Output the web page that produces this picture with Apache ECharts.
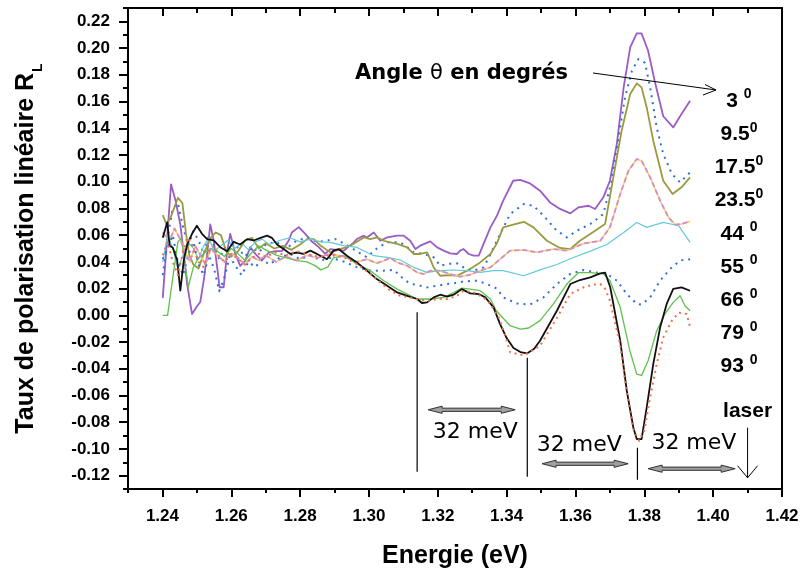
<!DOCTYPE html>
<html>
<head>
<meta charset="utf-8">
<title>Taux de polarisation linéaire</title>
<script src="https://cdn.jsdelivr.net/npm/echarts@6/dist/echarts.min.js"></script>
<style>
  html, body { margin: 0; padding: 0; background: #fff; }
  #chart { width: 801px; height: 569px; }
</style>
</head>
<body>
<div id="chart"></div>
<script>
// ---- Axis ranges and tick steps ----
const energyRange = [1.23, 1.42];      // full frame
const energyLabelRange = [1.24, 1.42]; // labelled ticks
const rlRange = [-0.13, 0.23];
const rlLabelRange = [-0.12, 0.22];
const tickStep = 0.02;

// ---- Angle labels (degrees), top to bottom ----
const angleLabels = ['3 ', '9.5', '17.5', '23.5', '44 ', '55 ', '66 ', '79 ', '93 '];

// ---- Linear polarisation rate R_L versus energy (eV) for each angle ----
const rl3 = [[1.2401,0.013],[1.2425,0.098],[1.2438,0.086],[1.2452,0.068],[1.2462,0.046],[1.2472,0.023],[1.2486,0.001],[1.2501,0.007],[1.2510,0.010],[1.2520,0.026],[1.2530,0.046],[1.2539,0.068],[1.2549,0.056],[1.2559,0.036],[1.2566,0.021],[1.2578,0.021],[1.2588,0.048],[1.2597,0.061],[1.2612,0.046],[1.2626,0.037],[1.2641,0.041],[1.2655,0.051],[1.2670,0.046],[1.2689,0.041],[1.2709,0.047],[1.2728,0.048],[1.2747,0.048],[1.2767,0.056],[1.2776,0.062],[1.2796,0.066],[1.2815,0.061],[1.2835,0.055],[1.2854,0.051],[1.2873,0.046],[1.2888,0.0496],[1.2927,0.0484],[1.2956,0.0546],[1.2965,0.0571],[1.2985,0.0596],[1.2994,0.0583],[1.3014,0.062],[1.3033,0.0558],[1.3053,0.0583],[1.3082,0.0596],[1.3101,0.0596],[1.3120,0.0558],[1.3135,0.0496],[1.3149,0.0521],[1.3178,0.0553],[1.3198,0.0508],[1.3217,0.0484],[1.3236,0.0463],[1.3256,0.0459],[1.3265,0.0484],[1.3275,0.0496],[1.3290,0.0459],[1.3304,0.0446],[1.3319,0.0446],[1.3333,0.0534],[1.3353,0.0658],[1.3372,0.0746],[1.3390,0.0858],[1.3419,0.1007],[1.3439,0.1013],[1.3468,0.0987],[1.3497,0.0933],[1.3526,0.0845],[1.3555,0.0796],[1.3585,0.0763],[1.3609,0.0808],[1.3638,0.082],[1.3657,0.0796],[1.3681,0.0883],[1.3700,0.1007],[1.3720,0.128],[1.3740,0.1706],[1.3759,0.2005],[1.3778,0.211],[1.3792,0.211],[1.3811,0.198],[1.3830,0.1756],[1.3855,0.149],[1.3884,0.1406],[1.3908,0.1507],[1.3933,0.1606]];

const rl9_5 = [[1.2401,0.030],[1.2415,0.058],[1.2430,0.080],[1.2445,0.084],[1.2460,0.066],[1.2475,0.052],[1.2490,0.063],[1.2505,0.056],[1.2520,0.046],[1.2535,0.060],[1.2550,0.052],[1.2565,0.042],[1.2580,0.050],[1.2600,0.057],[1.2620,0.050],[1.2640,0.044],[1.2660,0.051],[1.2680,0.047],[1.2700,0.053],[1.2730,0.055],[1.2760,0.050],[1.2790,0.056],[1.2820,0.058],[1.2850,0.055],[1.2880,0.056],[1.2902,0.0571],[1.2940,0.052],[1.2970,0.047],[1.2994,0.0434],[1.3023,0.050],[1.3053,0.0546],[1.3091,0.0546],[1.3111,0.051],[1.3130,0.0471],[1.3159,0.046],[1.3188,0.0434],[1.3207,0.0371],[1.3227,0.0384],[1.3256,0.0389],[1.3275,0.0359],[1.3304,0.0334],[1.3333,0.0359],[1.3352,0.045],[1.3372,0.056],[1.3410,0.0758],[1.3450,0.0833],[1.3478,0.082],[1.3507,0.0746],[1.3546,0.0633],[1.3575,0.0583],[1.3604,0.0633],[1.3643,0.0683],[1.3681,0.0758],[1.3705,0.1007],[1.3725,0.133],[1.3744,0.163],[1.3764,0.183],[1.3783,0.1918],[1.3802,0.189],[1.3817,0.1706],[1.3836,0.1406],[1.3855,0.1207],[1.3880,0.1058],[1.3904,0.0995],[1.3933,0.107]];

const rl17_5 = [[1.2401,0.075],[1.2412,0.068],[1.2425,0.074],[1.2445,0.088],[1.2458,0.084],[1.2468,0.062],[1.2478,0.045],[1.2490,0.038],[1.2505,0.035],[1.2520,0.046],[1.2540,0.058],[1.2555,0.062],[1.2570,0.060],[1.2585,0.048],[1.2600,0.044],[1.2620,0.048],[1.2640,0.056],[1.2660,0.058],[1.2680,0.050],[1.2700,0.054],[1.2725,0.050],[1.2750,0.052],[1.2775,0.049],[1.2800,0.053],[1.2820,0.057],[1.2840,0.057],[1.2860,0.052],[1.2888,0.0471],[1.2917,0.0496],[1.2946,0.0521],[1.2985,0.0583],[1.3004,0.0571],[1.3023,0.0583],[1.3043,0.0558],[1.3062,0.0546],[1.3082,0.0534],[1.3111,0.0508],[1.3130,0.0459],[1.3149,0.0459],[1.3169,0.0471],[1.3178,0.0421],[1.3188,0.0359],[1.3207,0.0296],[1.3236,0.0301],[1.3256,0.0296],[1.3275,0.0321],[1.3294,0.0346],[1.3323,0.0396],[1.3353,0.0459],[1.3372,0.054],[1.3390,0.0658],[1.3419,0.0678],[1.3450,0.070],[1.3478,0.0658],[1.3517,0.0558],[1.3555,0.0504],[1.3585,0.0496],[1.3613,0.0558],[1.3643,0.0608],[1.3686,0.0683],[1.3710,0.1032],[1.3734,0.138],[1.3759,0.1656],[1.3778,0.1736],[1.3792,0.1706],[1.3807,0.1556],[1.3826,0.1307],[1.3855,0.1007],[1.3882,0.0908],[1.3908,0.0958],[1.3933,0.1032]];

const rl23_5 = [[1.2401,0.062],[1.2420,0.055],[1.2435,0.065],[1.2450,0.058],[1.2465,0.048],[1.2480,0.040],[1.2495,0.052],[1.2510,0.045],[1.2525,0.038],[1.2540,0.050],[1.2560,0.045],[1.2580,0.040],[1.2600,0.046],[1.2620,0.043],[1.2640,0.038],[1.2660,0.044],[1.2680,0.041],[1.2700,0.045],[1.2730,0.040],[1.2760,0.044],[1.2790,0.041],[1.2820,0.045],[1.2850,0.043],[1.2888,0.046],[1.2927,0.044],[1.2965,0.040],[1.2994,0.042],[1.3023,0.039],[1.3043,0.0409],[1.3062,0.0429],[1.3082,0.0396],[1.3111,0.0371],[1.3140,0.0321],[1.3159,0.0309],[1.3178,0.0334],[1.3207,0.0334],[1.3236,0.0309],[1.3265,0.0289],[1.3294,0.0304],[1.3323,0.0334],[1.3353,0.0359],[1.3381,0.042],[1.3410,0.0484],[1.3450,0.0489],[1.3488,0.0471],[1.3536,0.0496],[1.3575,0.0484],[1.3624,0.0538],[1.3672,0.0558],[1.3700,0.0658],[1.3730,0.0908],[1.3754,0.1082],[1.3778,0.117],[1.3792,0.1157],[1.3817,0.1032],[1.3846,0.0858],[1.3870,0.0733],[1.3890,0.0678],[1.3908,0.0683],[1.3933,0.0703]];

const rl44 = [[1.2401,0.040],[1.2415,0.060],[1.2430,0.050],[1.2445,0.035],[1.2460,0.045],[1.2475,0.055],[1.2490,0.050],[1.2505,0.042],[1.2520,0.052],[1.2535,0.058],[1.2550,0.048],[1.2570,0.052],[1.2590,0.056],[1.2610,0.050],[1.2630,0.054],[1.2650,0.049],[1.2670,0.055],[1.2690,0.057],[1.2710,0.053],[1.2740,0.056],[1.2770,0.058],[1.2800,0.055],[1.2830,0.057],[1.2860,0.055],[1.2888,0.0546],[1.2927,0.0521],[1.2965,0.0508],[1.3014,0.0446],[1.3053,0.0434],[1.3091,0.0414],[1.3130,0.0359],[1.3169,0.0321],[1.3207,0.0334],[1.3246,0.0339],[1.3285,0.0334],[1.3323,0.0321],[1.3362,0.0334],[1.3390,0.0334],[1.3450,0.0296],[1.3497,0.034],[1.3546,0.038],[1.3594,0.0433],[1.3643,0.048],[1.3691,0.053],[1.3740,0.062],[1.3778,0.0695],[1.3807,0.0658],[1.3855,0.0695],[1.3900,0.067],[1.3933,0.0546]];

const rl55 = [[1.2401,0.042],[1.2415,0.050],[1.2430,0.060],[1.2445,0.040],[1.2460,0.030],[1.2475,0.045],[1.2490,0.055],[1.2505,0.038],[1.2520,0.030],[1.2535,0.045],[1.2550,0.035],[1.2565,0.018],[1.2580,0.028],[1.2595,0.044],[1.2610,0.038],[1.2630,0.030],[1.2650,0.040],[1.2670,0.036],[1.2690,0.042],[1.2710,0.038],[1.2740,0.043],[1.2770,0.046],[1.2800,0.042],[1.2830,0.045],[1.2860,0.041],[1.2890,0.043],[1.2930,0.040],[1.2965,0.036],[1.3004,0.0334],[1.3043,0.0334],[1.3072,0.034],[1.3106,0.0259],[1.3125,0.0234],[1.3149,0.0222],[1.3169,0.0209],[1.3198,0.0222],[1.3227,0.0234],[1.3246,0.0239],[1.3275,0.0254],[1.3314,0.0259],[1.3343,0.0234],[1.3372,0.020],[1.3390,0.0134],[1.3429,0.0089],[1.3468,0.008],[1.3507,0.0134],[1.3546,0.0234],[1.3585,0.031],[1.3624,0.0339],[1.3662,0.032],[1.3691,0.031],[1.3720,0.026],[1.3749,0.016],[1.3778,0.0085],[1.3792,0.008],[1.3817,0.0134],[1.3846,0.026],[1.3875,0.0347],[1.3904,0.041],[1.3933,0.042]];

const rl66 = [[1.2401,0.000],[1.2415,0.000],[1.2430,0.028],[1.2445,0.055],[1.2455,0.058],[1.2465,0.040],[1.2475,0.021],[1.2490,0.036],[1.2505,0.043],[1.2520,0.046],[1.2540,0.050],[1.2560,0.048],[1.2580,0.044],[1.2600,0.050],[1.2620,0.046],[1.2640,0.041],[1.2660,0.047],[1.2680,0.052],[1.2700,0.049],[1.2730,0.045],[1.2760,0.043],[1.2790,0.041],[1.2820,0.040],[1.2845,0.037],[1.2860,0.034],[1.2880,0.036],[1.2897,0.043],[1.2927,0.0446],[1.2965,0.0384],[1.3004,0.0334],[1.3043,0.0259],[1.3082,0.0196],[1.3111,0.0159],[1.3140,0.0122],[1.3178,0.0122],[1.3217,0.0134],[1.3246,0.0171],[1.3270,0.0204],[1.3294,0.0196],[1.3323,0.0184],[1.3353,0.0122],[1.3370,0.0034],[1.3410,-0.0078],[1.3440,-0.0103],[1.3464,-0.0095],[1.3497,-0.004],[1.3536,0.0085],[1.3575,0.0234],[1.3609,0.032],[1.3643,0.032],[1.3681,0.031],[1.3700,0.026],[1.3730,0.006],[1.3758,-0.0265],[1.3778,-0.044],[1.3792,-0.045],[1.3811,-0.034],[1.3836,-0.0115],[1.3860,0.001],[1.3884,0.0097],[1.3904,0.0147],[1.3918,0.0072],[1.3933,0.0034]];

const rl79 = [[1.2401,0.058],[1.2414,0.0696],[1.2421,0.052],[1.2430,0.0508],[1.2443,0.041],[1.2452,0.0184],[1.2462,0.041],[1.2472,0.053],[1.2486,0.061],[1.2500,0.067],[1.2515,0.061],[1.2530,0.057],[1.2549,0.056],[1.2568,0.051],[1.2588,0.048],[1.2607,0.055],[1.2626,0.053],[1.2646,0.057],[1.2665,0.056],[1.2685,0.058],[1.2704,0.0596],[1.2718,0.058],[1.2733,0.053],[1.2752,0.0496],[1.2771,0.046],[1.2791,0.047],[1.2810,0.046],[1.2830,0.0484],[1.2859,0.0446],[1.2878,0.042],[1.2897,0.0484],[1.2912,0.0496],[1.2936,0.0446],[1.2965,0.0396],[1.2994,0.0334],[1.3023,0.0271],[1.3053,0.0221],[1.3082,0.0171],[1.3111,0.0146],[1.3140,0.0122],[1.3154,0.0092],[1.3169,0.0097],[1.3188,0.0134],[1.3207,0.0154],[1.3227,0.0139],[1.3246,0.0154],[1.3270,0.0196],[1.3294,0.0164],[1.3319,0.0159],[1.3338,0.0134],[1.3362,0.0059],[1.3380,-0.006],[1.3400,-0.017],[1.3420,-0.0245],[1.3440,-0.0275],[1.3459,-0.0285],[1.3480,-0.025],[1.3497,-0.019],[1.3546,0.0034],[1.3585,0.0234],[1.3613,0.0264],[1.3643,0.0284],[1.3672,0.0314],[1.3686,0.032],[1.3701,0.021],[1.3730,-0.019],[1.3749,-0.0564],[1.3768,-0.0839],[1.3778,-0.0926],[1.3792,-0.0926],[1.3807,-0.0689],[1.3826,-0.0365],[1.3846,-0.009],[1.3865,0.0085],[1.3884,0.0197],[1.3908,0.0209],[1.3933,0.0184]];

const rl93 = [[1.2401,0.045],[1.2415,0.055],[1.2430,0.040],[1.2445,0.030],[1.2460,0.048],[1.2475,0.058],[1.2490,0.050],[1.2505,0.040],[1.2520,0.036],[1.2535,0.048],[1.2550,0.052],[1.2565,0.044],[1.2580,0.040],[1.2600,0.046],[1.2620,0.042],[1.2640,0.038],[1.2660,0.043],[1.2680,0.046],[1.2700,0.044],[1.2730,0.047],[1.2760,0.045],[1.2790,0.048],[1.2820,0.046],[1.2850,0.044],[1.2888,0.045],[1.2927,0.0434],[1.2965,0.0384],[1.3004,0.0309],[1.3033,0.0246],[1.3062,0.0184],[1.3091,0.0146],[1.3120,0.0134],[1.3149,0.0114],[1.3178,0.0109],[1.3198,0.0122],[1.3227,0.0122],[1.3256,0.0146],[1.3275,0.0184],[1.3304,0.0171],[1.3333,0.0134],[1.3353,0.0084],[1.3377,-0.0016],[1.3395,-0.014],[1.3410,-0.0277],[1.3450,-0.030],[1.3497,-0.0228],[1.3546,-0.002],[1.3585,0.016],[1.3624,0.021],[1.3653,0.023],[1.3672,0.0234],[1.3686,0.020],[1.3700,0.011],[1.3730,-0.022],[1.3750,-0.060],[1.3768,-0.085],[1.3785,-0.094],[1.3800,-0.086],[1.3817,-0.0614],[1.3836,-0.0365],[1.3855,-0.0165],[1.3880,-0.004],[1.3900,0.002],[1.3923,0.001],[1.3933,-0.009]];

// ---- Annotation anchors in data units (energy eV, R_L) ----
const laserEnergy = 1.410;
const separatorEnergies = [1.314, 1.346, 1.378];

// ---- Styling ----
const SANS = '"Liberation Sans", Arial, sans-serif';
const GOTHIC = '"DejaVu Sans", sans-serif';
const black = '#000';

const W = 801, H = 569;
const frameBox = { left: 128, right: 19, top: 8, bottom: 80 };
const plotW = W - frameBox.left - frameBox.right;
const plotH = H - frameBox.top - frameBox.bottom;
// Sub-grids whose extents start exactly on the labelled ticks, so the
// labelled ticks are counted from their own min.
const xShift = plotW * (energyLabelRange[0] - energyRange[0]) / (energyRange[1] - energyRange[0]);
const yTopShift = plotH * (rlRange[1] - rlLabelRange[1]) / (rlRange[1] - rlRange[0]);
const yBotShift = plotH * (rlLabelRange[0] - rlRange[0]) / (rlRange[1] - rlRange[0]);

const chart = echarts.init(document.getElementById('chart'), null, { renderer: 'canvas' });

function curve(name, data, color, width, type, z) {
  return {
    name, type: 'line', data,
    xAxisIndex: 0, yAxisIndex: 0,
    showSymbol: false, symbol: 'none',
    lineStyle: { color, width, type: type || 'solid', cap: 'butt', join: 'round' },
    itemStyle: { color },
    z: z || 2,
    animation: false,
    silent: true
  };
}

const tickLabelStyle = { color: black, fontSize: 17, fontWeight: 'bold', fontFamily: SANS };
const tickLine = { color: black, width: 2 };
const frame = { show: true, onZero: false, lineStyle: { color: black, width: 2 } };
const noLine = { show: false, onZero: false };

function axis(gridIndex, position, range, tickLen, inside, showLine, extra) {
  return Object.assign({
    type: 'value', gridIndex, position, min: range[0], max: range[1], interval: tickStep,
    axisLine: showLine ? frame : noLine,
    axisTick: tickLen ? { show: true, inside, length: tickLen, lineStyle: tickLine } : { show: false },
    axisLabel: { show: false },
    splitLine: { show: false }
  }, extra || {});
}

function gridBox(box) {
  return Object.assign({ containLabel: false, outerBoundsMode: 'none' }, box);
}

const option = {
  backgroundColor: '#fff',
  animation: false,
  grid: [
    gridBox(frameBox),
    gridBox({ left: frameBox.left + xShift, right: frameBox.right, top: frameBox.top, bottom: frameBox.bottom }),
    gridBox({ left: frameBox.left, right: frameBox.right, top: frameBox.top + yTopShift, bottom: frameBox.bottom + yBotShift })
  ],
  xAxis: [
    // frame, with the short ticks between labels
    axis(0, 'bottom', energyRange, 4, false, true, {
      name: 'Energie (eV)', nameLocation: 'middle', nameGap: 55,
      nameTextStyle: { color: black, fontSize: 25, fontWeight: 'bold', fontFamily: SANS }
    }),
    axis(0, 'top', energyRange, 5, true, true),
    // labelled ticks
    axis(1, 'bottom', energyLabelRange, 8, false, false, {
      axisLabel: { show: true, margin: 19, formatter: v => v.toFixed(2), ...tickLabelStyle }
    }),
    axis(1, 'top', energyLabelRange, 8, true, false),
    { type: 'value', gridIndex: 2, show: false, min: energyRange[0], max: energyRange[1] }
  ],
  yAxis: [
    axis(0, 'left', rlRange, 5, false, true, {
      name: '{m|Taux de polarisation linéaire R}{sub|L}',
      nameLocation: 'middle', nameGap: 89,
      nameTextStyle: {
        color: black, fontSize: 25, fontWeight: 'bold', fontFamily: SANS,
        rich: {
          m: { fontSize: 25, fontWeight: 'bold', fontFamily: SANS, color: black, lineHeight: 25, verticalAlign: 'top' },
          sub: { fontSize: 14, fontWeight: 'bold', fontFamily: SANS, color: black, lineHeight: 14, verticalAlign: 'top', padding: [17, 0, 0, 1] }
        }
      }
    }),
    axis(0, 'right', rlRange, 0, false, true),
    { type: 'value', gridIndex: 1, show: false, min: rlRange[0], max: rlRange[1] },
    axis(2, 'left', rlLabelRange, 9, false, false, {
      axisLabel: { show: true, margin: 18, formatter: v => v.toFixed(2), ...tickLabelStyle }
    })
  ],
  series: [
    curve('3°', rl3, '#9b5cc4', 1.8, 'solid', 3),
    curve('9.5°', rl9_5, '#2f6fd8', 2, [2, 5], 3),
    curve('17.5°', rl17_5, '#9a9a40', 1.8, 'solid', 3),
    curve('23.5° base', rl23_5, '#f2d36a', 1.6, 'solid', 3),
    curve('23.5°', rl23_5, '#d58bd2', 1.8, [5, 3], 4),
    curve('44°', rl44, '#64cad8', 1.2, 'solid', 3),
    curve('55°', rl55, '#2f6fd8', 2, [2, 5], 3),
    curve('66°', rl66, '#5ec24d', 1.3, 'solid', 3),
    curve('79°', rl79, '#111111', 1.8, 'solid', 4),
    curve('93°', rl93, '#f0704e', 2, [2, 4], 5)
  ]
};

chart.setOption(option);

// ---- Annotations ----
const toPx = (e, v) => chart.convertToPixel({ seriesIndex: 0 }, [e, v]);

function doubleArrow(x1, x2, y) {
  const hl = 14, hh = 3.6, sh = 1.6;
  return {
    type: 'polygon', silent: true, z: 20,
    shape: { points: [
      [x1, y], [x1 + hl, y - hh], [x1 + hl, y - sh], [x2 - hl, y - sh], [x2 - hl, y - hh],
      [x2, y], [x2 - hl, y + hh], [x2 - hl, y + sh], [x1 + hl, y + sh], [x1 + hl, y + hh]
    ] },
    style: { fill: '#a0a0a0', stroke: '#303030', lineWidth: 1 }
  };
}
function segment(p1, p2, w) {
  return { type: 'line', silent: true, z: 20,
    shape: { x1: p1[0], y1: p1[1], x2: p2[0], y2: p2[1] },
    style: { stroke: black, lineWidth: w || 1 } };
}
function text(x, y, str, font, align) {
  return { type: 'text', silent: true, z: 21, x, y,
    style: { text: str, font, fill: black, align: align || 'center', verticalAlign: 'middle' } };
}

const graphics = [];

// vertical separators, 32 meV apart below the laser line
const sepSpans = [[0.0022, -0.117], [-0.0317, -0.1208], [-0.0991, -0.1231]];
separatorEnergies.forEach((e, i) => {
  graphics.push(segment(toPx(e, sepSpans[i][0]), toPx(e, sepSpans[i][1]), 1.2));
});

// 32 meV double arrows and their labels
const spans = [
  { from: 1.3172, to: 1.3425, v: -0.0707, tx: 1.3309, tv: -0.0879 },
  { from: 1.3503, to: 1.3753, v: -0.1111, tx: 1.3611, tv: -0.0976 },
  { from: 1.3811, to: 1.4064, v: -0.1148, tx: 1.3944, tv: -0.0961 }
];
spans.forEach(s => {
  const a = toPx(s.from, s.v), b = toPx(s.to, s.v);
  graphics.push(doubleArrow(a[0], b[0], a[1]));
  const t = toPx(s.tx, s.tv);
  graphics.push(text(t[0], t[1], '32 meV', '22px ' + GOTHIC));
});

// laser arrow
const lTop = toPx(laserEnergy, -0.0841), lBot = toPx(laserEnergy, -0.1216);
graphics.push(segment(lTop, lBot, 1));
graphics.push({ type: 'polyline', silent: true, z: 20,
  shape: { points: [[lBot[0] - 10, lBot[1] - 12], lBot, [lBot[0] + 10, lBot[1] - 12]] },
  style: { stroke: black, lineWidth: 1, fill: null } });
const lt = toPx(laserEnergy, -0.0714);
graphics.push(text(lt[0], lt[1], 'laser', 'bold 21px ' + SANS));

// "Angle θ en degrés" heading with its pointer
graphics.push({ type: 'text', silent: true, z: 21, x: 355, y: 74,
  style: {
    text: '{b|Angle }{t|θ}{b| en degrés}', align: 'left', verticalAlign: 'middle',
    rich: {
      b: { fontSize: 21, fontWeight: 'bold', fontFamily: GOTHIC, fill: black },
      t: { fontSize: 21, fontWeight: 'normal', fontFamily: GOTHIC, fill: black }
    }
  } });
graphics.push({ type: 'line', silent: true, z: 20,
  shape: { x1: 593, y1: 73, x2: 716, y2: 90 }, style: { stroke: black, lineWidth: 1 } });
graphics.push({ type: 'polyline', silent: true, z: 20,
  shape: { points: [[705, 84.5], [716, 90], [703, 95]] },
  style: { stroke: black, lineWidth: 1, fill: null } });

// angle list
angleLabels.forEach((lab, i) => {
  graphics.push({ type: 'text', silent: true, z: 21, x: 739, y: 99.5 + i * 33.2,
    style: {
      text: '{n|' + lab + '}{s|0}', align: 'center', verticalAlign: 'middle',
      rich: {
        n: { fontSize: 21, fontWeight: 'bold', fontFamily: SANS, fill: black, lineHeight: 24, verticalAlign: 'bottom' },
        s: { fontSize: 14, fontWeight: 'bold', fontFamily: SANS, fill: black, lineHeight: 14, verticalAlign: 'top' }
      }
    } });
});

chart.setOption({ graphic: graphics });
</script>
</body>
</html>
